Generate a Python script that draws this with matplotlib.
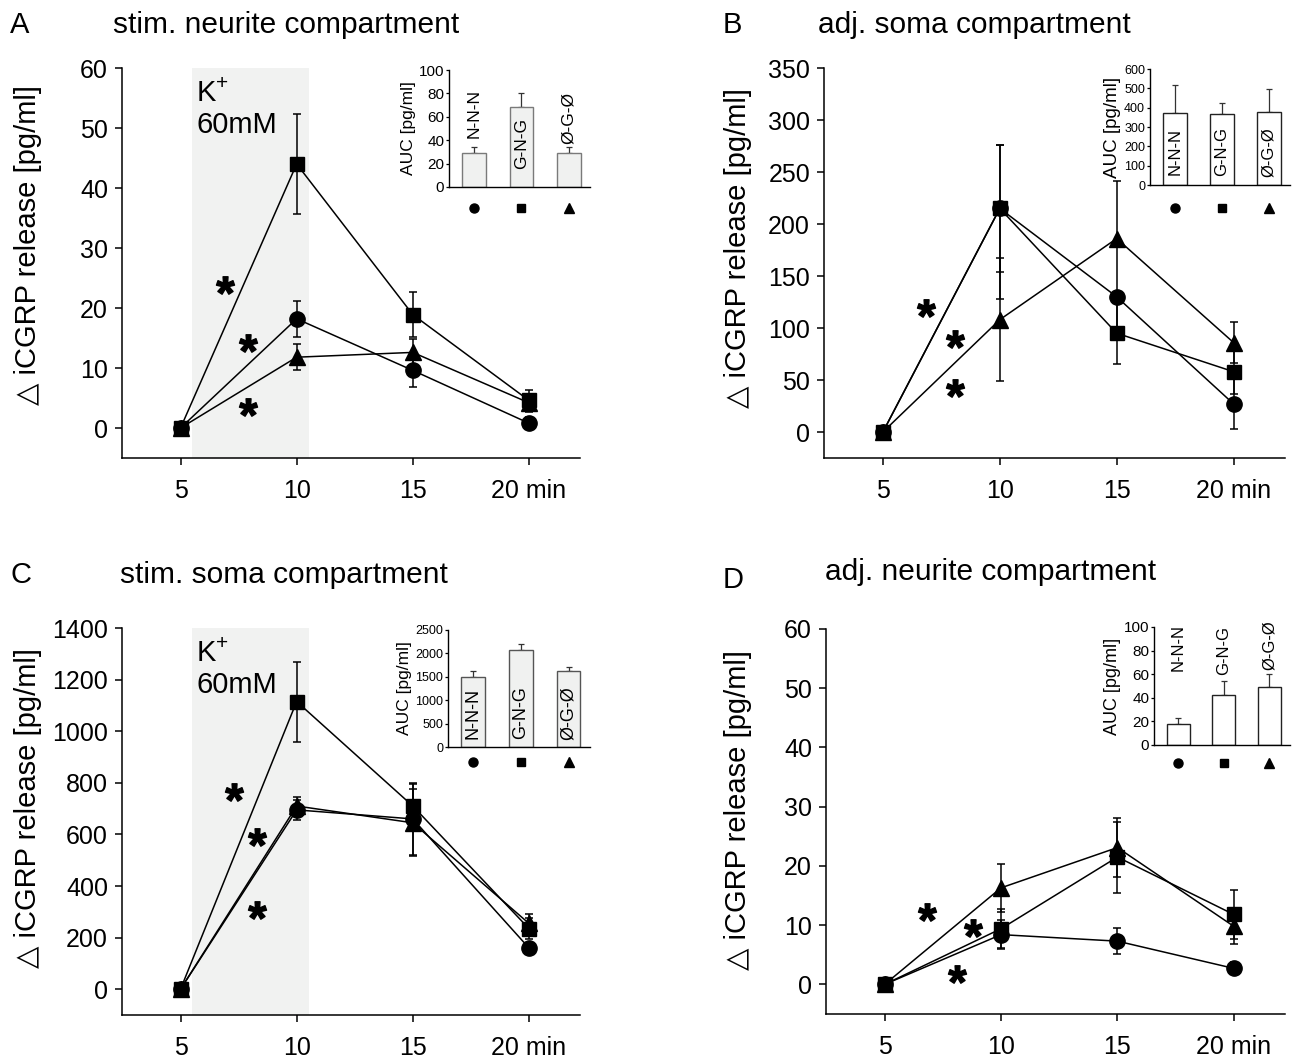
import matplotlib
matplotlib.use("Agg")
import matplotlib.pyplot as plt
from matplotlib.transforms import blended_transform_factory

plt.rcParams['font.family'] = ['Liberation Sans', 'DejaVu Sans']
plt.rcParams['mathtext.fontset'] = 'custom'
plt.rcParams['mathtext.rm'] = 'Liberation Sans'
plt.rcParams['mathtext.bf'] = 'Liberation Sans:bold'

# === Data ===
times = [5, 10, 15, 20]
time_labels = ['5', '10', '15', '20 min']
groups = ['N-N-N', 'G-N-G', 'Ø-G-Ø']

# A: stim. neurite compartment
a_circle = [0, 18.2, 9.6, 0.8]
a_circle_err = [0.5, 3.0, 2.8, 1.0]
a_square = [0, 44.0, 18.9, 4.6]
a_square_err = [0.5, 8.4, 3.7, 1.8]
a_triangle = [0, 11.8, 12.6, 4.2]
a_triangle_err = [0.5, 2.2, 2.3, 1.5]
a_auc = [29, 68, 29]
a_auc_err = [5, 12, 5]
a_stars_x = [6.9, 7.9, 7.9]
a_stars_y = [23.8, 14.2, 3.5]

# B: adj. soma compartment (circle error given as [lower, upper])
b_circle = [0, 215, 130, 27]
b_circle_err = [[0, 87, 35, 24], [0, 61, 0, 24]]
b_square = [0, 215, 95, 58]
b_square_err = [0, 61, 30, 21]
b_triangle = [0, 108, 186, 86]
b_triangle_err = [0, 59, 55, 20]
b_auc = [372, 367, 378]
b_auc_err = [145, 57, 119]
b_stars_x = [6.84, 8.1, 8.1]
b_stars_y = [119, 89, 42]

# C: stim. soma compartment
c_circle = [0, 695, 660, 160]
c_circle_err = [0, 40, 140, 15]
c_square = [0, 1115, 710, 235]
c_square_err = [0, 155, 85, 40]
c_triangle = [0, 710, 645, 255]
c_triangle_err = [0, 35, 130, 35]
c_auc = [1496, 2073, 1624]
c_auc_err = [128, 127, 85]
c_stars_x = [7.3, 8.3, 8.3]
c_stars_y = [763, 590, 306]

# D: adj. neurite compartment
d_circle = [0, 8.4, 7.3, 2.7]
d_circle_err = [0, 2.5, 2.2, 1.0]
d_square = [0, 9.4, 21.5, 11.8]
d_square_err = [0, 3.3, 6.0, 4.2]
d_triangle = [0, 16.3, 23.1, 9.8]
d_triangle_err = [0, 4.1, 5.0, 3.0]
d_auc = [18, 42, 49]
d_auc_err = [5, 12, 11]
d_stars_x = [6.8, 8.8, 8.1]
d_stars_y = [12.2, 9.5, 1.7]

W, H = 1301, 1061


def px_rect(l, t, r, b):
    return [l / W, 1 - b / H, (r - l) / W, (b - t) / H]


def fx(x):
    return x / W


def fy(y):
    return 1 - y / H


fig = plt.figure(figsize=(W / 100, H / 100), dpi=100)

panels = [
    dict(letter='A', title='stim. neurite compartment', rect=(122, 68, 580, 458),
         ylim=(-5, 60), ystep=10, shade=True,
         series=[(a_circle, a_circle_err, 'o', 11), (a_square, a_square_err, 's', 9.5),
                 (a_triangle, a_triangle_err, '^', 11)],
         stars=(a_stars_x, a_stars_y),
         inset=(449, 70, 590, 187), auc=a_auc, auc_err=a_auc_err, auc_max=100, auc_step=20,
         bar_face='#f0f1f0', bar_edge='#7a7a7a', tick_fs=11, lab_fs=12.5,
         bar_lab_y=[63, 37, 59], bar_lab_fs=12.5, mk_y=-0.18,
         letter_xy=(10, 33), title_xy=(113, 33), ylab_xy=(28, 245)),
    dict(letter='B', title='adj. soma compartment', rect=(824, 68, 1285, 458),
         ylim=(-25, 350), ystep=50, shade=False,
         series=[(b_circle, b_circle_err, 'o', 11), (b_square, b_square_err, 's', 9.5),
                 (b_triangle, b_triangle_err, '^', 11)],
         stars=(b_stars_x, b_stars_y),
         inset=(1150, 69, 1290, 185), auc=b_auc, auc_err=b_auc_err, auc_max=600, auc_step=100,
         bar_face='white', bar_edge='#222222', tick_fs=9, lab_fs=13.5,
         bar_lab_y=[171, 171, 171], bar_lab_fs=12, mk_y=-0.2,
         letter_xy=(723, 33), title_xy=(818, 33), ylab_xy=(738, 248)),
    dict(letter='C', title='stim. soma compartment', rect=(122, 628, 580, 1015),
         ylim=(-100, 1400), ystep=200, shade=True,
         series=[(c_circle, c_circle_err, 'o', 11), (c_square, c_square_err, 's', 9.5),
                 (c_triangle, c_triangle_err, '^', 11)],
         stars=(c_stars_x, c_stars_y),
         inset=(448, 630, 590, 747), auc=c_auc, auc_err=c_auc_err, auc_max=2500, auc_step=500,
         bar_face='#f0f1f0', bar_edge='#555555', tick_fs=9, lab_fs=12.5,
         bar_lab_y=[726, 726, 726], bar_lab_fs=13, mk_y=-0.13,
         letter_xy=(10, 583), title_xy=(120, 583), ylab_xy=(28, 808)),
    dict(letter='D', title='adj. neurite compartment', rect=(826, 629, 1285, 1014),
         ylim=(-5, 60), ystep=10, shade=False,
         series=[(d_circle, d_circle_err, 'o', 11), (d_square, d_square_err, 's', 9.5),
                 (d_triangle, d_triangle_err, '^', 11)],
         stars=(d_stars_x, d_stars_y),
         inset=(1154, 627, 1290, 745), auc=d_auc, auc_err=d_auc_err, auc_max=100, auc_step=20,
         bar_face='white', bar_edge='#222222', tick_fs=11, lab_fs=13,
         bar_lab_y=[83, 80.5, 85], bar_lab_fs=12, mk_y=-0.15,
         letter_xy=(723, 588), title_xy=(825, 580), ylab_xy=(738, 810)),
]

for p in panels:
    ax = fig.add_axes(px_rect(*p['rect']))
    ax.set_xlim(2.48, 22.2)
    ax.set_ylim(*p['ylim'])
    for s in ['top', 'right']:
        ax.spines[s].set_visible(False)
    for s in ['left', 'bottom']:
        ax.spines[s].set_linewidth(1.1)
    ax.set_xticks(times)
    ax.set_xticklabels(time_labels)
    ax.set_yticks(range(0, p['ylim'][1] + 1, p['ystep']))
    ax.tick_params(axis='both', direction='out', length=5, width=1.1, labelsize=18)
    ax.tick_params(axis='x', pad=10)
    ax.tick_params(axis='y', pad=5)

    if p['shade']:
        ax.axvspan(5.5, 10.55, color='#f1f2f1', zorder=0, lw=0)
        l, t, r, b = p['rect']
        span = p['ylim'][1] - p['ylim'][0]
        ky = p['ylim'][1] - span * 25 / (b - t)
        ax.text(5.7, ky, 'K', fontsize=21, va='center', ha='left')
        ax.annotate('+', (5.7, ky), xytext=(14, 7), textcoords='offset points',
                    fontsize=15, va='center', ha='left')
        ax.text(5.7, p['ylim'][1] - span * 57 / (b - t), '60mM',
                fontsize=21, va='center', ha='left')

    for vals, err, mk, ms in p['series']:
        ax.errorbar(times, vals, yerr=err, color='k', marker=mk, ms=ms, lw=1.1,
                    elinewidth=1.1, capsize=3, capthick=1.1, zorder=3)

    sx, sy = p['stars']
    ax.plot(sx, sy, ls='none', marker=r'$\mathbf{*}$', ms=13, color='k')

    fig.text(fx(p['letter_xy'][0]), fy(p['letter_xy'][1]), p['letter'],
             fontsize=21, va='baseline', ha='left')
    fig.text(fx(p['title_xy'][0]), fy(p['title_xy'][1]), p['title'],
             fontsize=21.5, va='baseline', ha='left')
    fig.text(fx(p['ylab_xy'][0]), fy(p['ylab_xy'][1]), '△ iCGRP release [pg/ml]',
             fontsize=21, rotation=90, va='center', ha='center')

    # inset bar chart
    il, it, ir, ib = p['inset']
    ia = fig.add_axes(px_rect(il, it, ir, ib))
    xs = [0, 1, 2]
    ia.bar(xs, p['auc'], width=0.5, color=p['bar_face'], edgecolor=p['bar_edge'],
           lw=1.0, zorder=2)
    ia.errorbar(xs, p['auc'], yerr=[[0, 0, 0], p['auc_err']], fmt='none',
                ecolor='#333333', elinewidth=0.9, capsize=2.5, capthick=0.9, zorder=1)
    ia.set_xlim(-0.53, 2.45)
    ia.set_ylim(0, p['auc_max'])
    ia.set_yticks(range(0, p['auc_max'] + 1, p['auc_step']))
    ia.set_xticks([])
    for s in ['top', 'right']:
        ia.spines[s].set_visible(False)
    ia.spines['left'].set_linewidth(1.0)
    ia.spines['bottom'].set_linewidth(1.0)
    ia.tick_params(axis='y', direction='out', length=2.5, width=0.9,
                   labelsize=p['tick_fs'], pad=1)
    ia.set_ylabel('AUC [pg/ml]', fontsize=p['lab_fs'], labelpad=2)
    for x, g, ly in zip(xs, groups, p['bar_lab_y']):
        ia.text(x, ly, g, rotation=90, ha='center', va='center',
                fontsize=p['bar_lab_fs'], zorder=4)
    tr = blended_transform_factory(ia.transData, ia.transAxes)
    for x, mk, ms in zip(xs, ['o', 's', '^'], [6.5, 5.5, 6.5]):
        ia.plot([x], [p['mk_y']], marker=mk, ms=ms, color='k', transform=tr,
                clip_on=False, ls='none')

fig.savefig('out.png', dpi=100)
